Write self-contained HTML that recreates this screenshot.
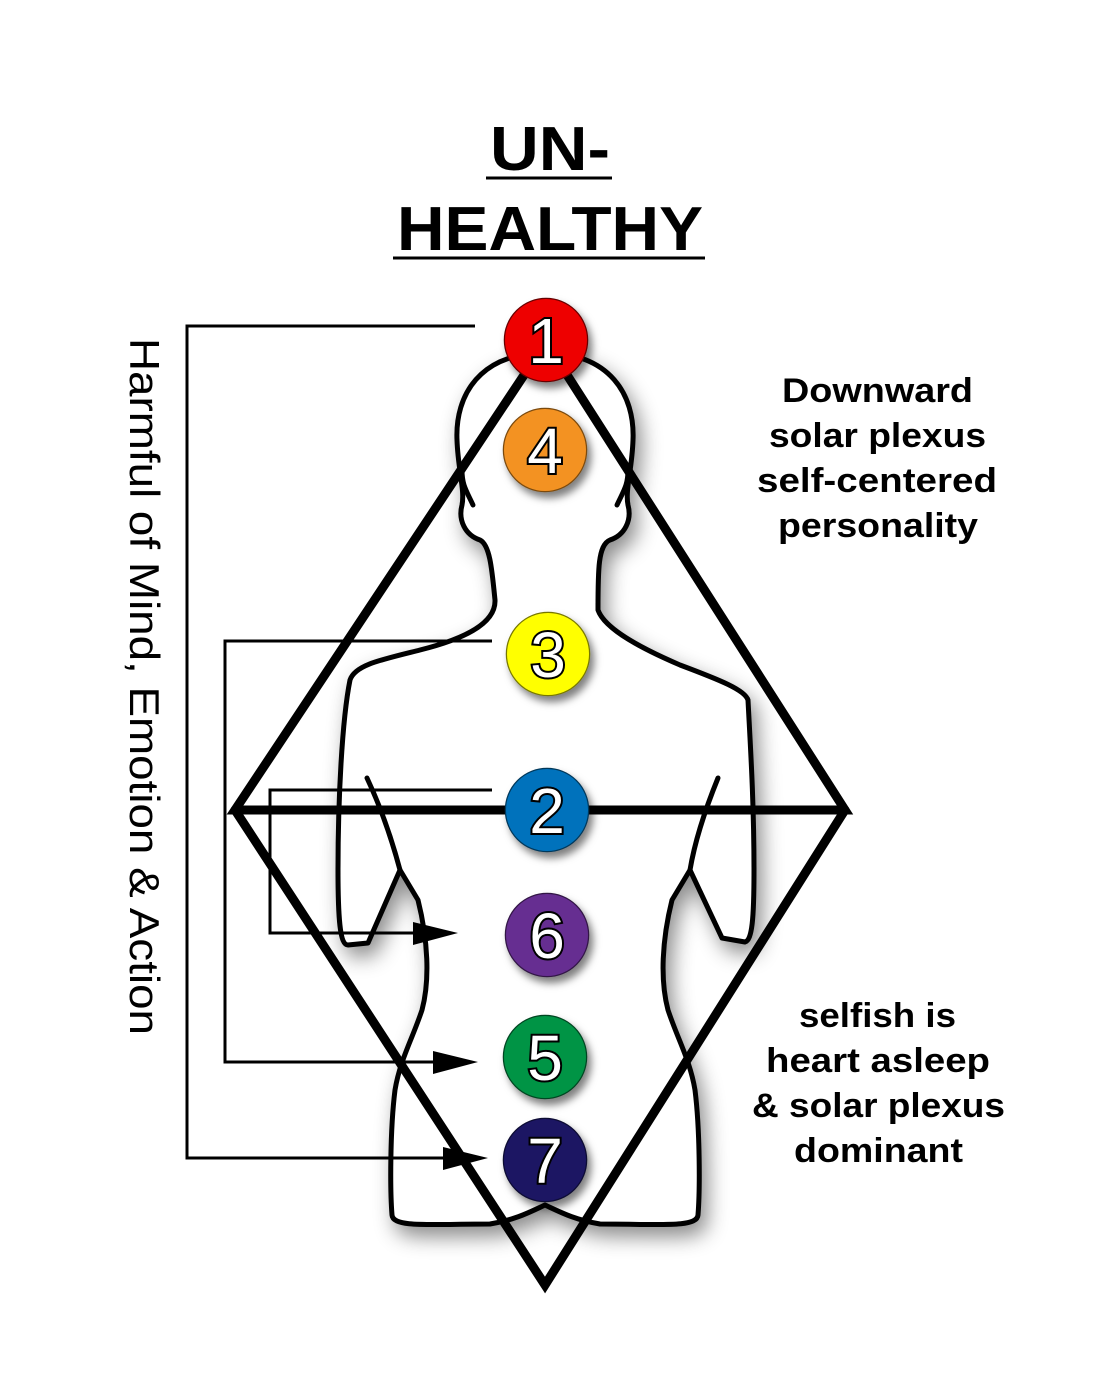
<!DOCTYPE html>
<html><head><meta charset="utf-8"><style>
html,body{margin:0;padding:0;background:#fff;}
svg{display:block;}
text{font-family:"Liberation Sans",Arial,sans-serif;}
</style></head><body>
<svg width="1113" height="1396" viewBox="0 0 1113 1396" xmlns="http://www.w3.org/2000/svg">
<defs>
<filter id="sh" x="-20%" y="-20%" width="140%" height="140%">
<feDropShadow dx="6" dy="10" stdDeviation="10" flood-color="#000" flood-opacity="0.45"/>
</filter>
<filter id="cs" x="-40%" y="-40%" width="180%" height="180%">
<feDropShadow dx="4" dy="6" stdDeviation="4" flood-color="#000" flood-opacity="0.5"/>
</filter>
</defs>

<!-- title -->
<text x="490" y="170" font-size="62" font-weight="bold" textLength="120" lengthAdjust="spacingAndGlyphs">UN-</text>
<line x1="486" y1="178" x2="612" y2="178" stroke="#000" stroke-width="3"/>
<text x="397" y="250" font-size="62" font-weight="bold" textLength="306" lengthAdjust="spacingAndGlyphs">HEALTHY</text>
<line x1="393" y1="258" x2="705" y2="258" stroke="#000" stroke-width="3"/>

<!-- body -->
<g filter="url(#sh)" fill="#fff" stroke="#000" stroke-width="5" stroke-linejoin="round">
<path d="M545,353 C480,353 455,395 457,440 C458,470 465,490 462,505 C458,520 465,535 480,540 C490,545 492,570 495,600 C496,625 460,640 420,650 C380,660 355,665 350,680 C342,720 338,800 338,870 C338,920 340,945 348,945 L368,943 L400,870 L418,900 C428,940 430,980 422,1010 C412,1040 400,1060 395,1090 C390,1130 390,1190 392,1215 C393,1228 430,1224 490,1224 C515,1220 530,1212 545,1205 C560,1212 575,1220 600,1224 C660,1224 697,1228 698,1215 C700,1190 700,1130 695,1090 C690,1060 678,1040 668,1010 C660,980 662,940 672,900 L690,870 L722,938 L745,942 C752,940 754,920 754,870 C754,800 750,740 748,700 C745,690 720,680 680,665 C645,650 605,630 598,610 C598,570 598,545 610,540 C625,535 632,520 628,505 C625,490 632,470 633,440 C635,395 610,353 545,353 Z"/>
</g>
<g fill="none" stroke="#000" stroke-width="5" stroke-linecap="round">
<path d="M367,778 C382,810 392,840 400,870"/>
<path d="M718,778 C705,810 695,840 690,870"/>
<path d="M473,505 C466,490 462,485 462,470"/>
<path d="M617,505 C624,490 628,485 628,470"/>
</g>

<!-- connectors -->
<g fill="none" stroke="#000" stroke-width="3">
<polyline points="475,326 187,326 187,1158 450,1158"/>
<polyline points="492,641 225,641 225,1062 440,1062"/>
<polyline points="492,790 270,790 270,933 420,933"/>
</g>
<g fill="#000">
<polygon points="488,1158 443,1147 443,1170"/>
<polygon points="478,1062 433,1051 433,1074"/>
<polygon points="458,933 413,922 413,945"/>
</g>

<!-- triangles -->
<g fill="none" stroke="#000" stroke-width="9" stroke-linejoin="miter" stroke-linecap="round">
<polygon points="546,342 235,810 845,810"/>
<polyline points="235,810 545,1285 845,810"/>
</g>

<!-- chakra circles -->
<g font-size="64" text-anchor="middle" fill="#fff" stroke="#000" stroke-width="2.5" paint-order="stroke">
<g filter="url(#cs)">
<circle cx="546" cy="340" r="41" fill="#e00" stroke="#600"/>
<circle cx="545" cy="450" r="41" fill="#f39223" stroke="#7a4a10"/>
<circle cx="548" cy="654" r="41" fill="#ff0" stroke="#777700"/>
<circle cx="547" cy="810" r="41" fill="#0072bc" stroke="#00375a"/>
<circle cx="547" cy="935" r="41" fill="#662d91" stroke="#301545"/>
<circle cx="545" cy="1057" r="41" fill="#009444" stroke="#004520"/>
<circle cx="545" cy="1160" r="41" fill="#1b1464" stroke="#0a0830"/>
</g>
<text x="546" y="363" stroke-width="4">1</text>
<text x="545" y="473" stroke-width="4">4</text>
<text x="548" y="677" stroke-width="4">3</text>
<text x="547" y="833" stroke-width="4">2</text>
<text x="547" y="958" stroke-width="4">6</text>
<text x="545" y="1080" stroke-width="4">5</text>
<text x="545" y="1183" stroke-width="4">7</text>
</g>

<!-- side text -->
<text transform="translate(130,338) rotate(90)" font-size="42" textLength="697" lengthAdjust="spacingAndGlyphs">Harmful of Mind, Emotion &amp; Action</text>

<g font-size="34" font-weight="bold" lengthAdjust="spacingAndGlyphs">
<text x="782" y="402" textLength="191" lengthAdjust="spacingAndGlyphs">Downward</text>
<text x="769" y="447" textLength="217" lengthAdjust="spacingAndGlyphs">solar plexus</text>
<text x="757" y="492" textLength="240" lengthAdjust="spacingAndGlyphs">self-centered</text>
<text x="778" y="537" textLength="200" lengthAdjust="spacingAndGlyphs">personality</text>
<text x="799" y="1027" textLength="157" lengthAdjust="spacingAndGlyphs">selfish is</text>
<text x="766" y="1072" textLength="224" lengthAdjust="spacingAndGlyphs">heart asleep</text>
<text x="752" y="1117" textLength="253" lengthAdjust="spacingAndGlyphs">&amp; solar plexus</text>
<text x="794" y="1162" textLength="169" lengthAdjust="spacingAndGlyphs">dominant</text>
</g>
</svg>
</body></html>
